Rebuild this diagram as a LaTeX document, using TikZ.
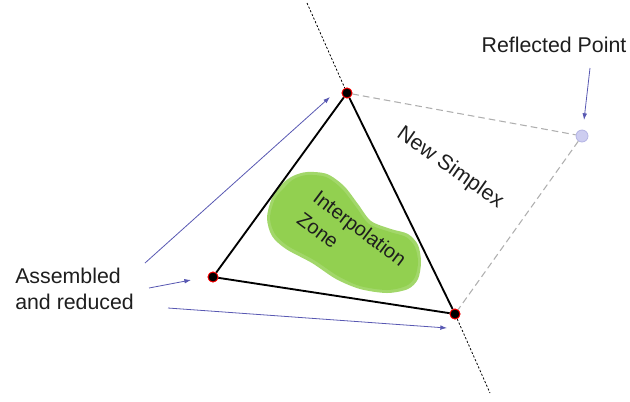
\documentclass[tikz,border=0pt]{standalone}
\usepackage{fontspec}
\setmainfont{Liberation Sans}
\usetikzlibrary{arrows.meta}

\definecolor{zonegreen}{RGB}{146,208,80}
\definecolor{arrowblue}{RGB}{88,88,178}
\definecolor{dashgray}{RGB}{175,175,175}
\definecolor{reflfill}{RGB}{205,205,240}
\definecolor{refldraw}{RGB}{180,180,228}
\definecolor{labeltext}{RGB}{30,30,30}

\tikzset{
  vertex/.style={circle,fill=black,draw=red,line width=0.6pt,inner sep=0pt,minimum size=7.5pt},
  reflpt/.style={circle,fill=reflfill,draw=refldraw,line width=0.6pt,inner sep=0pt,minimum size=9pt},
  edge/.style={line width=1.4pt,black},
  dashedge/.style={dashgray,line width=0.8pt,dash pattern=on 5pt off 3pt},
  dotline/.style={black,line width=0.6pt,dash pattern=on 1.6pt off 1.4pt},
  pointer/.style={arrowblue,line width=0.6pt,-{Latex[length=5pt,width=3.5pt]}},
  lbl/.style={inner sep=0pt,text=labeltext,font=\fontsize{16}{19}\selectfont}
}

\begin{document}
\begin{tikzpicture}[x=0.75pt,y=0.75pt,yscale=-1,xscale=1]
        \useasboundingbox (0,0) rectangle (630,401);

        % interpolation zone
        \fill [zonegreen!85!white] plot [smooth cycle] coordinates {(307,172) (327,174) (344,186) (358,204) (371,221) (391,229) (408,234) (418,245) (421,262) (418,279) (408,289) (387,293) (360,289) (336,279) (312,263) (286,249) (272,236) (267,218) (272,198) (282,184) (293,176)};
        \fill [zonegreen] plot [smooth cycle] coordinates {(307,175) (326,177) (342,189) (356,207) (369,224) (390,232) (406,237) (415,247) (418,262) (415,277) (406,286) (387,290) (360,286) (338,276) (314,260) (288,246) (275,234) (270,218) (275,199) (285,187) (294,179)};
        \node [lbl,align=left,rotate=-37,font=\fontsize{15}{20}\selectfont] (zone) at (352,239) {Interpolation\\Zone};

        % simplex vertices
        \node [vertex] (A) at (347,93) {};
        \node [vertex] (B) at (213,277) {};
        \node [vertex] (C) at (455,314) {};
        \node [reflpt] (R) at (582,136) {};

        \coordinate (dotTop) at (307,3);
        \coordinate (dotBot) at (490,393);
        \draw [dotline] (dotTop) -- (A);
        \draw [dotline] (C) -- (dotBot);

        \draw [dashedge] (A) -- (R) -- (C);
        \draw [edge] (A) -- (B) -- (C) -- (A);
        \node [vertex] at (A) {};
        \node [vertex] at (B) {};
        \node [vertex] at (C) {};

        % labels
        \node [lbl] (newsimplex) at (450,168) [rotate=-35] {New Simplex};
        \node [lbl] (reflected) at (554,45) {Reflected Point};
        \node [lbl,align=left,anchor=west] (assembled) at (15,289) {Assembled\\and reduced};

        % pointers
        \coordinate (p1) at (145,263);
        \coordinate (p1e) at (330,97);
        \coordinate (p2) at (149,288);
        \coordinate (p2e) at (191,280);
        \coordinate (p3) at (168,308);
        \coordinate (p3e) at (447,328);
        \coordinate (p4) at (590,68);
        \coordinate (p4e) at (584,120);
        \draw [pointer] (p1) -- (p1e);
        \draw [pointer] (p2) -- (p2e);
        \draw [pointer] (p3) -- (p3e);
        \draw [pointer] (p4) -- (p4e);
\end{tikzpicture}
\end{document}
